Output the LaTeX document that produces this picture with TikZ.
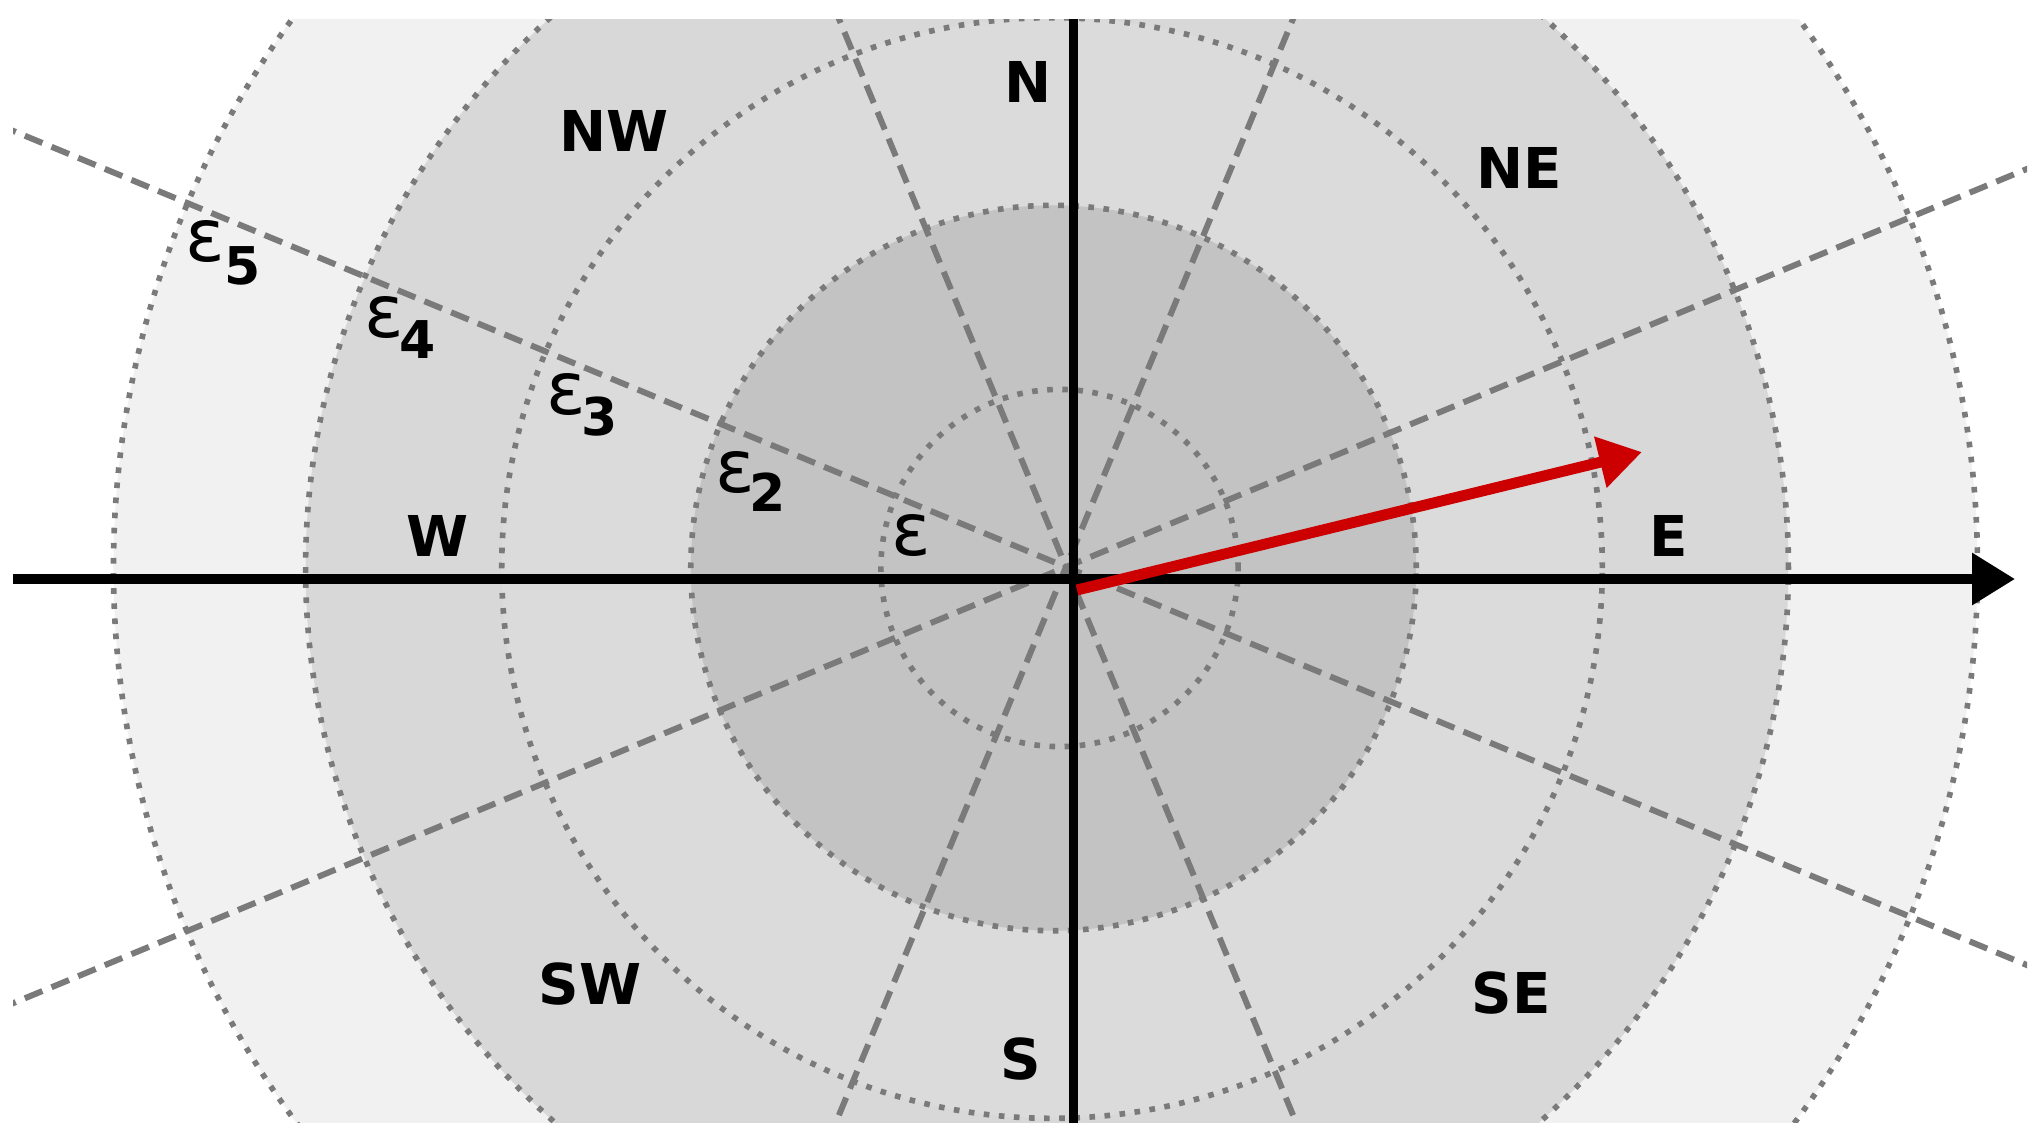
\documentclass[tikz,border=0pt]{standalone}
\usepackage{fontspec}
\setmainfont{DejaVu Sans}
\usetikzlibrary{arrows.meta,calc}
\definecolor{ringA}{HTML}{F1F1F1}
\definecolor{ringB}{HTML}{D8D8D8}
\definecolor{ringC}{HTML}{DBDBDB}
\definecolor{ringD}{HTML}{C3C3C3}
\definecolor{gridgray}{HTML}{7A7A7A}
\definecolor{vecred}{HTML}{CC0000}
\begin{document}
\begin{tikzpicture}[x=0.01cm,y=-0.01cm,
  ringcircle/.style={draw=gridgray, line width=1.6pt, dash pattern=on 1.6pt off 2.7pt},
  sectorline/.style={draw=gridgray, line width=1.7pt, dash pattern=on 5.4pt off 2.8pt},
  axisline/.style={draw=black, line width=2.7pt},
  dirlabel/.style={inner sep=0pt, font=\fontsize{16}{19}\selectfont\bfseries},
  epslabel/.style={inner sep=0pt, font=\fontsize{20.8}{24}\selectfont},
  sublabel/.style={inner sep=0pt, font=\fontsize{14.8}{18}\selectfont\bfseries},
  tipstyle/.style={-{Triangle[length=12.2pt,width=14.2pt]}}
]
\fill[white] (0,0) rectangle (2044,1144);
\useasboundingbox (0,0) rectangle (2044,1144);

% centres
\coordinate (C1) at (1059.5,568);
\coordinate (C2) at (1053.5,568);
\coordinate (C3) at (1052,568);
\coordinate (C4) at (1047,568);
\coordinate (C5) at (1045.5,568);
\coordinate (D) at (1066,567);

\begin{scope}
\clip (13,19) rectangle (2027,1122);
% fills
\fill[ringA] (C5) circle [radius=9.315cm];
\fill[ringB] (C4) circle [radius=7.41cm];
\fill[ringC] (C3) circle [radius=5.50cm];
\fill[ringD] (C2) circle [radius=3.625cm];
% dotted rings
\draw[ringcircle] (C1) circle [radius=1.785cm];
\draw[ringcircle] (C2) circle [radius=3.625cm];
\draw[ringcircle] (C3) circle [radius=5.50cm];
\draw[ringcircle] (C4) circle [radius=7.41cm];
\draw[ringcircle] (C5) circle [radius=9.315cm];
% dashed sector lines
\draw[sectorline] ($(D)+(-1201,-497.5)$) -- ($(D)+(1201,497.5)$);
\draw[sectorline] ($(D)+(-1201,497.5)$) -- ($(D)+(1201,-497.5)$);
\draw[sectorline] ($(D)+(-497.5,-1201)$) -- ($(D)+(497.5,1201)$);
\draw[sectorline] ($(D)+(497.5,-1201)$) -- ($(D)+(-497.5,1201)$);
% axes
\coordinate (xl) at (13,579);
\coordinate (xr) at (2015,579);
\coordinate (yt) at (1073.5,10);
\coordinate (yb) at (1073.5,1135);
\draw[axisline] (yt) -- (yb);
\draw[axisline,tipstyle] (xl) -- (xr);
\end{scope}

% red vector
\coordinate (v0) at (1077,590);
\coordinate (v1) at (1642,452);
\draw[vecred, line width=3.1pt, tipstyle] (v0) -- (v1);

% direction labels
\node[dirlabel] (lN)  at (1028,82)  {N};
\node[dirlabel] (lNW) at (614,131)  {NW};
\node[dirlabel] (lNE) at (1519,168) {NE};
\node[dirlabel] (lW)  at (438,536)  {W};
\node[dirlabel] (lE)  at (1669,536) {E};
\node[dirlabel] (lSW) at (590,984)  {SW};
\node[dirlabel] (lSE) at (1511,993) {SE};
\node[dirlabel] (lS)  at (1021,1059) {S};

% epsilon labels
\node[epslabel] (e1) at (911,536) {ε};
\node[epslabel] (e2) at (735,473) {ε};
\node[sublabel] (e2s) at (768,492) {2};
\node[epslabel] (e3) at (566,395) {ε};
\node[sublabel] (e3s) at (600,417) {3};
\node[epslabel] (e4) at (384,318) {ε};
\node[sublabel] (e4s) at (418,340) {4};
\node[epslabel] (e5) at (205,242) {ε};
\node[sublabel] (e5s) at (243,266) {5};
\end{tikzpicture}
\end{document}
